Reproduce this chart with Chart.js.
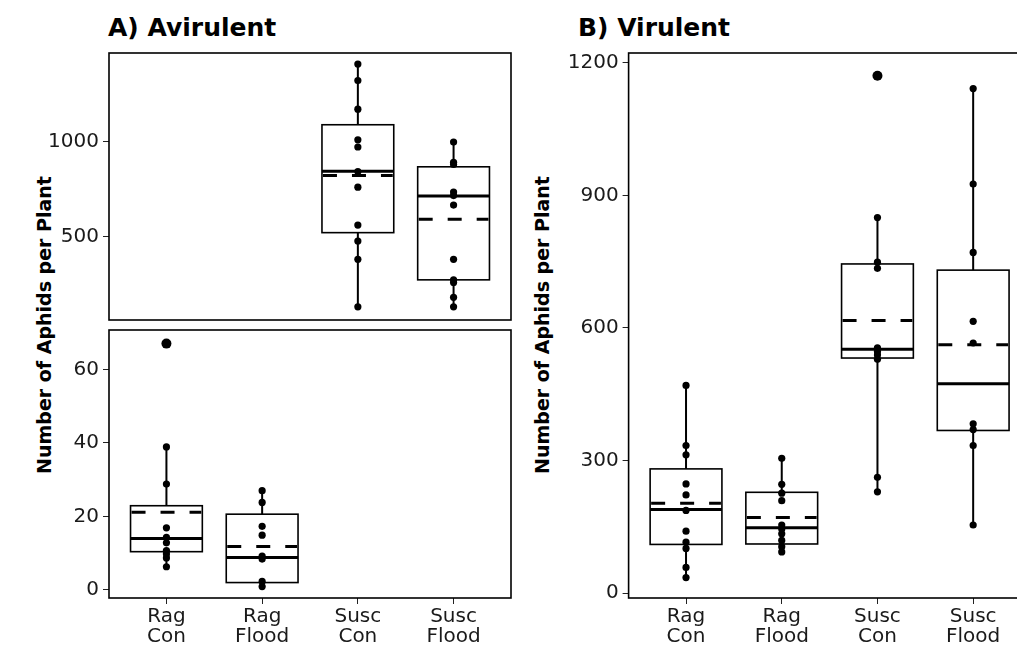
<!DOCTYPE html>
<html>
<head>
<meta charset="utf-8">
<script src="https://cdn.jsdelivr.net/npm/chart.js@4.4.1/dist/chart.umd.min.js"></script>
<style>
  html, body { margin: 0; padding: 0; background: #fff; overflow: hidden; width: 1017px; height: 648px; }
  canvas { position: absolute; }
  .title { position: absolute; font: bold 25px 'DejaVu Sans'; line-height: 25px; color: #000; white-space: nowrap; }
  .ytitle { position: absolute; font: bold 19px 'DejaVu Sans'; line-height: 19px; color: #000; white-space: nowrap;
            transform: translate(-50%, -50%) rotate(-90deg); }
</style>
</head>
<body>
<div class="title" style="left:108px;top:15px">A) Avirulent</div>
<div class="title" style="left:578px;top:15px">B) Virulent</div>
<div class="ytitle" style="left:44px;top:325px">Number of Aphids per Plant</div>
<div class="ytitle" style="left:542px;top:325px">Number of Aphids per Plant</div>

<canvas id="aTop" width="520" height="336" style="left:0;top:0"></canvas>
<canvas id="aBottom" width="520" height="338" style="left:0;top:310px"></canvas>
<canvas id="bChart" width="540" height="648" style="left:500px;top:0"></canvas>

<script>
// categories (x positions 1..4)
const categories = [['Rag', 'Con'], ['Rag', 'Flood'], ['Susc', 'Con'], ['Susc', 'Flood']];

// tick labels
const yTicksATop = [500, 1000];
const yTicksABottom = [0, 20, 40, 60];
const yTicksB = [0, 300, 600, 900, 1200];

// panel A, upper part (Susc Con, Susc Flood)
const aTopGroups = [3, 4];
const aTopQ1 = [522, 274];
const aTopMedian = [845, 714];
const aTopQ3 = [1089, 868];
const aTopMean = [822, 592];
const aTopLow = [132, 132];
const aTopHigh = [1408, 998];
const aSuscCon = [1408, 1321, 1171, 1010, 972, 843, 761, 562, 478, 382, 132];
const aSuscFlood = [998, 892, 880, 735, 717, 667, 382, 274, 260, 182, 132];

// panel A, lower part (Rag Con, Rag Flood)
const aBotGroups = [1, 2];
const aBotQ1 = [10.4, 2.0];
const aBotMedian = [14.0, 8.8];
const aBotQ3 = [22.9, 20.6];
const aBotMean = [21.1, 11.8];
const aBotLow = [6.3, 0.9];
const aBotHigh = [38.9, 27.0];
const aRagCon = [67.0, 38.9, 28.8, 16.9, 14.3, 12.8, 10.7, 9.8, 8.7, 6.3];
const aRagFlood = [27.0, 23.8, 17.3, 14.9, 9.2, 8.4, 2.3, 0.9];
const aBotOutliers = [[1, 67.0]];

// panel B
const bGroups = [1, 2, 3, 4];
const bQ1 = [110, 111, 532, 368];
const bMedian = [189, 148, 552, 474];
const bQ3 = [281, 228, 745, 731];
const bMean = [203, 171, 617, 562];
const bLow = [35, 93, 229, 154];
const bHigh = [470, 305, 850, 1142];
const bRagCon = [470, 334, 313, 247, 222, 187, 140, 115, 101, 58, 35];
const bRagFlood = [305, 246, 226, 209, 154, 145, 134, 119, 105, 93];
const bSuscCon = [1171, 850, 749, 735, 555, 547, 539, 529, 262, 229];
const bSuscFlood = [1142, 926, 771, 615, 566, 383, 370, 334, 154];
const bOutliers = [[3, 1171]];

Chart.defaults.font.family = "'DejaVu Sans', sans-serif";
Chart.defaults.color = '#1a1a1a';

// turn a list of values into scatter points at one category
function toPoints(group, values) {
    return values.map(v => ({ x: group, y: v }));
}

// draws whiskers, boxes, median and dashed mean lines with the chart scales
function boxPlugin(stats) {
    return {
        id: 'boxes',
        beforeDatasetsDraw(chart) {
            const { ctx, scales: { x, y } } = chart;
            ctx.save();
            ctx.strokeStyle = '#000';
            stats.groups.forEach((g, i) => {
                const cx = x.getPixelForValue(g);
                const left = x.getPixelForValue(g - 0.375);
                const right = x.getPixelForValue(g + 0.375);
                const top = y.getPixelForValue(stats.q3[i]);
                const bottom = y.getPixelForValue(stats.q1[i]);

                // whiskers
                ctx.lineWidth = 2;
                ctx.setLineDash([]);
                ctx.beginPath();
                ctx.moveTo(cx, y.getPixelForValue(stats.high[i]));
                ctx.lineTo(cx, top);
                ctx.moveTo(cx, bottom);
                ctx.lineTo(cx, y.getPixelForValue(stats.low[i]));
                ctx.stroke();

                // box
                ctx.fillStyle = '#fff';
                ctx.fillRect(left, top, right - left, bottom - top);
                ctx.lineWidth = 1.6;
                ctx.strokeRect(left, top, right - left, bottom - top);

                // median
                const my = y.getPixelForValue(stats.median[i]);
                ctx.lineWidth = 3;
                ctx.beginPath();
                ctx.moveTo(left, my);
                ctx.lineTo(right, my);
                ctx.stroke();

                // mean (dashed)
                const ay = y.getPixelForValue(stats.mean[i]);
                ctx.setLineDash([14, 15]);
                ctx.beginPath();
                ctx.moveTo(left + 1, ay);
                ctx.lineTo(right - 1, ay);
                ctx.stroke();
            });
            ctx.restore();
        }
    };
}

// panel border
const framePlugin = {
    id: 'frame',
    afterDraw(chart) {
        const { ctx, chartArea: a } = chart;
        ctx.save();
        ctx.strokeStyle = '#000';
        ctx.lineWidth = 1.6;
        ctx.strokeRect(a.left, a.top, a.right - a.left, a.bottom - a.top);
        ctx.restore();
    }
};

function pointSets(points, outliers) {
    const sets = [{
        type: 'scatter',
        data: points,
        backgroundColor: '#000',
        borderWidth: 0,
        pointRadius: 3.6,
        pointHoverRadius: 3.6
    }];
    if (outliers) {
        sets.push({
            type: 'scatter',
            data: outliers.map(o => ({ x: o[0], y: o[1] })),
            backgroundColor: '#000',
            borderWidth: 0,
            pointRadius: 5,
            pointHoverRadius: 5
        });
    }
    return sets;
}

function makeOptions(o) {
    return {
        responsive: false,
        animation: false,
        layout: { padding: o.padding },
        plugins: { legend: { display: false }, tooltip: { enabled: false } },
        scales: {
            x: {
                type: 'linear',
                min: 0.4,
                max: 4.6,
                display: o.showX,
                afterBuildTicks: axis => { axis.ticks = [1, 2, 3, 4].map(v => ({ value: v })); },
                afterFit: axis => { if (o.showX) axis.height = 50; },
                ticks: {
                    font: { size: 20, lineHeight: 1.0 },
                    padding: 3,
                    maxRotation: 0,
                    callback: v => categories[v - 1]
                },
                grid: { drawOnChartArea: false, tickLength: 6, color: '#222', lineWidth: 1 },
                border: { display: false }
            },
            y: {
                type: 'linear',
                min: o.yMin,
                max: o.yMax,
                afterBuildTicks: axis => { axis.ticks = o.yTicks.map(v => ({ value: v })); },
                afterFit: axis => { axis.width = o.yWidth; },
                ticks: { font: { size: 20 }, padding: 4, callback: v => String(v) },
                grid: { drawOnChartArea: false, tickLength: 6, color: '#222', lineWidth: 1 },
                border: { display: false }
            }
        }
    };
}

// A) upper part
new Chart(document.getElementById('aTop'), {
    type: 'scatter',
    data: { datasets: pointSets(toPoints(3, aSuscCon).concat(toPoints(4, aSuscFlood))) },
    options: makeOptions({
        padding: { top: 53, right: 9, bottom: 15, left: 0 },
        showX: false, yMin: 63, yMax: 1466, yTicks: yTicksATop, yWidth: 109
    }),
    plugins: [boxPlugin({ groups: aTopGroups, q1: aTopQ1, median: aTopMedian, q3: aTopQ3, mean: aTopMean, low: aTopLow, high: aTopHigh }), framePlugin]
});

// A) lower part
new Chart(document.getElementById('aBottom'), {
    type: 'scatter',
    data: { datasets: pointSets(toPoints(1, aRagCon).concat(toPoints(2, aRagFlood)), aBotOutliers) },
    options: makeOptions({
        padding: { top: 20, right: 9, bottom: 0, left: 0 },
        showX: true, yMin: -2.2, yMax: 70.7, yTicks: yTicksABottom, yWidth: 109
    }),
    plugins: [boxPlugin({ groups: aBotGroups, q1: aBotQ1, median: aBotMedian, q3: aBotQ3, mean: aBotMean, low: aBotLow, high: aBotHigh }), framePlugin]
});

// B)
new Chart(document.getElementById('bChart'), {
    type: 'scatter',
    data: {
        datasets: pointSets(
            toPoints(1, bRagCon).concat(toPoints(2, bRagFlood), toPoints(3, bSuscCon), toPoints(4, bSuscFlood)),
            bOutliers)
    },
    options: makeOptions({
        padding: { top: 53, right: 9.4, bottom: 0, left: 0 },
        showX: true, yMin: -11.3, yMax: 1222.6, yTicks: yTicksB, yWidth: 128.6
    }),
    plugins: [boxPlugin({ groups: bGroups, q1: bQ1, median: bMedian, q3: bQ3, mean: bMean, low: bLow, high: bHigh }), framePlugin]
});
</script>
</body>
</html>
